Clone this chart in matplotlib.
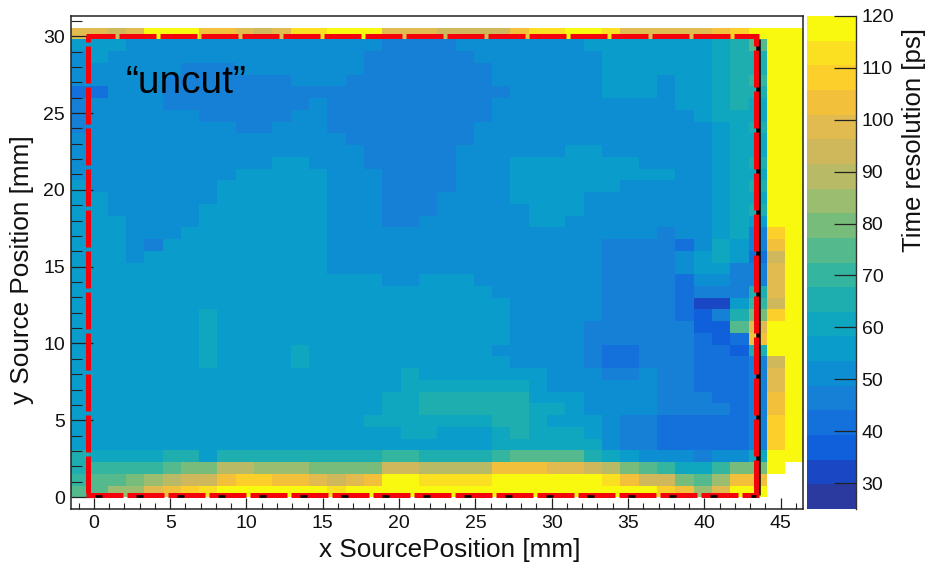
import matplotlib
matplotlib.use("Agg")
import matplotlib.pyplot as plt
import numpy as np
from matplotlib.colors import ListedColormap, BoundaryNorm
from matplotlib.cm import ScalarMappable
from matplotlib.ticker import MultipleLocator

nan = float("nan")
plt.rcParams['font.family'] = ['Liberation Sans', 'DejaVu Sans']
plt.rcParams['lines.scale_dashes'] = False

W, H = 928, 564
PX = 0.72  # points per pixel at dpi 100

XLIM = (-1.5, 46.5)
YLIM = (-0.78, 31.32)
N_X, N_Y = 40, 42
VMIN, VMAX, N_LEVELS = 25, 120, 20
CBAR_TICKS = [30, 40, 50, 60, 70, 80, 90, 100, 110, 120]
X_MAJOR = [0, 5, 10, 15, 20, 25, 30, 35, 40, 45]
Y_MAJOR = [0, 5, 10, 15, 20, 25, 30]
CUT_X = (-0.36, 43.4)
CUT_Y = (0.1, 30.05)
PALETTE = ['#2a3a9e', '#1a48c4', '#1060dc', '#1470da', '#1580d6', '#0e8ed2', '#0a9cca', '#0fa6c0',
           '#1eaeb0', '#33b5a0', '#55b98e', '#78bc7c', '#9bbd70', '#b8ba65', '#cfb85c', '#e2bb50',
           '#f3c03c', '#fdcf2a', '#fae020', '#f9f90f']

EMPTY = [nan] * 40
R01 = [99,99,94,99,118,118,118,103,103,99, 94,99,113,113,118,118,118,99,99,99, 94,94,94,94,103,113,113,118,118,113, 99,99,99,99,99,103,108,118,118,118]
R02 = [56,56,56,51,51,51,51,51,51,51, 51,51,51,51,51,51,51,46,46,46, 46,51,51,51,51,51,51,51,56,56, 56,56,56,56,56,61,65,75,118,118]
R03 = [51,56,51,51,51,51,51,51,51,51, 51,51,51,51,51,51,46,46,46,46, 46,46,51,51,51,51,51,51,51,56, 56,56,56,56,56,61,65,65,118,118]
R04 = [51,51,51,51,51,51,46,46,46,51, 51,51,51,51,51,51,46,46,46,46, 46,46,46,51,51,51,51,51,51,56, 56,56,56,56,56,61,65,65,118,118]
R05 = [51,51,51,51,51,46,46,46,46,46, 46,46,51,51,51,46,46,46,46,46, 46,46,46,51,51,51,51,51,51,56, 56,56,51,56,56,61,65,70,118,118]
R06 = [42,42,51,51,51,46,46,46,46,46, 46,46,46,46,46,46,46,46,46,46, 46,46,46,46,51,51,51,51,51,56, 56,56,51,56,56,61,65,65,118,118]
R07 = [46,51,51,51,51,46,46,46,46,46, 46,46,46,51,46,46,46,46,46,46, 46,46,46,51,51,51,51,51,51,51, 51,51,51,56,56,61,65,61,118,118]
R08 = [46,51,51,51,51,51,51,46,46,46, 46,46,51,51,46,46,46,46,46,46, 46,46,46,51,51,51,51,51,51,51, 51,51,51,51,56,61,61,61,118,118]
R09 = [46,51,51,51,51,51,51,51,51,46, 46,51,51,51,46,46,46,46,46,46, 46,46,51,51,51,51,51,51,51,51, 51,51,51,51,51,56,61,65,118,118]
R10 = [51,51,51,51,51,51,51,51,51,51, 51,51,51,51,51,46,46,46,46,46, 46,46,51,51,51,51,51,51,51,51, 51,51,51,51,51,56,61,61,118,118]
R11 = [51,51,51,51,51,51,51,51,51,51, 51,51,51,51,51,51,46,46,46,46, 46,51,51,51,51,51,51,56,56,51, 51,51,51,51,51,56,61,61,118,118]
R12 = [51,51,51,51,51,51,51,51,51,51, 51,56,56,51,51,51,46,46,46,46, 46,51,51,51,56,56,56,56,56,56, 56,51,51,51,51,56,61,65,118,118]
R13 = [51,51,51,51,51,51,51,51,51,56, 56,56,56,56,51,51,51,46,46,46, 46,51,51,51,56,56,56,56,56,56, 56,56,56,51,51,56,61,61,118,118]
R14 = [56,51,51,51,51,51,51,51,56,56, 56,56,56,56,51,51,51,46,46,46, 46,51,51,51,56,56,56,56,56,56, 51,51,51,51,51,56,61,65,118,118]
R15 = [56,56,51,51,51,51,51,51,56,56, 56,56,56,56,51,51,51,46,46,46, 51,51,51,51,56,56,56,56,51,51, 51,51,51,51,51,56,61,61,118,118]
R16 = [56,56,51,51,51,51,51,56,56,56, 56,56,56,56,51,51,51,46,46,46, 51,51,51,51,51,56,56,56,51,51, 51,51,51,51,51,56,61,65,118,118]
R17 = [56,56,56,51,51,51,51,56,56,56, 56,56,56,56,51,51,51,46,46,51, 51,51,51,51,51,56,56,51,51,51, 51,51,51,51,51,56,61,56,118,118]
R18 = [56,56,56,51,51,51,56,56,56,56, 56,56,56,56,51,51,51,51,51,51, 51,51,51,51,51,51,51,51,51,51, 51,51,46,51,51,56,61,46,108,118]
R19 = [56,56,56,51,46,56,56,56,56,56, 56,56,56,56,51,51,51,51,51,51, 51,51,51,51,51,51,51,51,51,46, 46,46,46,42,51,61,56,46,103,118]
R20 = [56,56,56,51,56,56,56,56,56,56, 56,56,56,56,51,51,51,51,51,51, 51,51,51,51,51,51,51,51,51,46, 46,46,46,51,56,61,56,42,94,118]
R21 = [56,56,56,56,56,56,56,56,56,56, 56,56,56,56,51,51,51,51,51,51, 51,51,51,51,51,51,51,51,51,46, 46,46,46,51,56,56,46,46,99,118]
R22 = [56,56,56,56,56,56,56,56,56,56, 56,56,56,56,56,56,56,51,51,56, 56,56,51,51,51,51,51,51,51,46, 46,46,46,42,51,51,46,46,99,118]
R23 = [56,56,56,56,56,56,56,56,56,56, 56,56,56,56,56,56,56,56,56,56, 56,56,56,51,51,51,51,51,51,46, 46,46,46,42,46,46,46,65,99,118]
R24 = [56,56,56,56,56,56,56,56,56,56, 56,56,56,56,56,56,56,56,56,56, 56,56,56,56,51,51,51,51,51,46, 46,46,46,42,32,32,56,70,94,118]
R25 = [56,56,56,56,56,56,56,61,56,56, 56,56,56,56,56,56,56,56,56,56, 56,56,56,56,51,51,51,51,51,46, 46,46,46,42,37,46,65,80,108,118]
R26 = [56,56,56,56,56,56,56,61,56,56, 56,56,56,56,56,56,56,56,56,56, 56,56,56,56,51,51,51,51,46,46, 46,46,46,46,37,37,75,99,118,118]
R27 = [56,56,56,56,56,56,56,61,56,56, 56,56,56,56,56,56,56,56,56,56, 56,56,56,56,51,51,51,51,46,46, 46,46,46,46,42,37,42,103,118,118]
R28 = [56,56,56,56,56,56,56,61,56,56, 56,56,61,56,56,56,56,56,56,56, 56,56,56,51,51,51,51,51,46,42, 42,46,46,46,42,42,37,65,118,118]
R29 = [56,56,56,56,56,56,56,61,56,56, 56,56,61,56,56,56,56,56,56,56, 56,56,56,56,51,51,51,51,46,42, 42,46,46,46,42,42,42,46,94,118]
R30 = [56,56,56,56,56,56,56,56,56,56, 56,56,56,56,56,56,56,56,61,56, 56,56,56,56,56,56,51,51,51,46, 46,51,46,46,42,42,42,46,99,118]
R31 = [56,56,56,56,56,56,56,56,56,56, 56,56,56,56,56,56,56,56,61,61, 61,61,61,61,61,56,51,51,51,51, 51,51,46,46,42,42,42,46,99,118]
R32 = [56,56,56,56,56,56,56,56,56,56, 56,56,56,56,56,56,56,61,61,65, 65,65,65,65,65,56,56,56,51,51, 51,51,46,46,46,42,42,46,103,118]
R33 = [56,56,56,56,56,56,56,56,56,56, 56,56,56,56,56,56,56,61,61,65, 65,65,65,65,65,61,61,56,51,51, 51,51,46,46,46,46,42,46,103,118]
R34 = [56,56,56,56,56,56,56,56,56,56, 56,56,56,56,56,56,61,61,61,61, 61,61,61,65,65,61,56,56,56,51, 46,46,42,42,42,42,42,46,108,118]
R35 = [56,56,56,56,56,56,56,56,56,56, 56,56,56,56,56,56,56,56,61,61, 56,56,56,61,65,61,61,61,56,51, 46,46,42,42,42,42,42,46,108,118]
R36 = [56,56,56,56,56,56,56,56,56,56, 56,56,56,56,56,56,56,56,56,56, 56,56,56,61,61,61,61,61,61,51, 46,46,42,42,42,42,42,46,108,118]
R37 = [65,61,61,61,61,65,65,56,65,65, 65,65,65,65,65,65,65,70,70,65, 65,65,65,70,75,75,75,75,65,61, 56,51,51,51,46,51,51,61,118,118]
R38 = [65,70,70,70,70,75,80,80,89,89, 84,84,84,80,80,80,80,94,94,89, 89,89,89,103,103,103,99,99,94,89, 80,75,70,61,61,70,80,80,118,nan]
R39 = [70,75,75,80,84,89,94,94,103,108, 108,103,103,99,94,99,103,118,118,113, 113,113,113,118,118,118,118,118,118,113, 103,94,94,80,75,84,103,103,nan,nan]
R40 = [75,75,84,84,99,103,108,113,118,118, 118,118,118,118,113,118,118,118,118,118, 118,118,118,118,118,118,118,118,118,118, 118,118,108,103,84,99,118,118,nan,nan]

rows_top_down = [EMPTY, R01, R02, R03, R04, R05, R06, R07, R08, R09, R10, R11, R12, R13,
                 R14, R15, R16, R17, R18, R19, R20, R21, R22, R23, R24, R25, R26, R27,
                 R28, R29, R30, R31, R32, R33, R34, R35, R36, R37, R38, R39, R40, EMPTY]
Z = np.ma.masked_invalid(np.array(rows_top_down, dtype=float)[::-1])

cmap = ListedColormap(PALETTE)
norm = BoundaryNorm(np.linspace(VMIN, VMAX, N_LEVELS + 1), N_LEVELS)

fig = plt.figure(figsize=(W / 100, H / 100), dpi=100)
ax = fig.add_axes([71 / W, 1 - 509 / H, (803.5 - 71) / W, (509 - 16) / H])
cax = fig.add_axes([807.5 / W, 1 - 509 / H, (856 - 807.5) / W, (509 - 16) / H])

x_edges = np.linspace(XLIM[0], XLIM[1], N_X + 1)
y_edges = np.linspace(YLIM[0], YLIM[1], N_Y + 1)
ax.pcolormesh(x_edges, y_edges, Z, cmap=cmap, norm=norm, zorder=1, antialiased=False, linewidth=0)
ax.set_xlim(*XLIM)
ax.set_ylim(*YLIM)

ax.set_xticks(X_MAJOR)
ax.set_yticks(Y_MAJOR)
ax.xaxis.set_minor_locator(MultipleLocator(1))
ax.yaxis.set_minor_locator(MultipleLocator(1))
ax.tick_params(axis='x', which='major', direction='in', length=11 * PX, width=0.9, color='#222222',
               labelsize=14, pad=4.5, labelcolor='#111111')
ax.tick_params(axis='x', which='minor', direction='in', length=6 * PX, width=0.8, color='#222222')
ax.tick_params(axis='y', which='major', direction='in', length=22 * PX, width=0.9, color='#222222',
               labelsize=14, pad=4.3, labelcolor='#111111')
ax.tick_params(axis='y', which='minor', direction='in', length=11 * PX, width=0.8, color='#222222')
for s in ax.spines.values():
    s.set_linewidth(1.1)
    s.set_color('#222222')

fig.text(450 / W, 1 - 550 / H, 'x SourcePosition [mm]', ha='center', va='center', fontsize=18.8, color='#111111')
fig.text(22 / W, 1 - 270 / H, 'y Source Position [mm]', ha='center', va='center', rotation=90, fontsize=18.8, color='#111111')
ax.text(2.1, 26.3, '\u201cuncut\u201d', fontsize=28, color='black', ha='left', va='baseline', zorder=6)

# black frame under the red dashed rectangle
ax.plot([CUT_X[1] + 0.1, CUT_X[1] + 0.1], [CUT_Y[0], CUT_Y[1] - 0.2], color='black', lw=4.5 * PX, zorder=3,
        solid_capstyle='butt')

rkw = dict(color='#f4040a', lw=5 * PX, dash_capstyle='butt', zorder=4)
on, off = 37 * PX, 4 * PX
ext_x, ext_y = 0.16, 0.16
ax.plot([CUT_X[0] - ext_x, CUT_X[1] + ext_x], [CUT_Y[1], CUT_Y[1]], linestyle=(8 * PX, (on, off)), **rkw)
ax.plot([CUT_X[0], CUT_X[0]], [CUT_Y[1], CUT_Y[0]], linestyle=(31 * PX, (on, off)), **rkw)
ax.plot([CUT_X[1], CUT_X[1]], [CUT_Y[1], CUT_Y[0]], linestyle=(27 * PX, (on, off)), **rkw)
ax.plot([CUT_X[0] - ext_x, CUT_X[1] + ext_x], [CUT_Y[0], CUT_Y[0]], linestyle=(0, (on, off)), **rkw)
ax.plot([CUT_X[0], CUT_X[1]], [CUT_Y[0] - 0.06, CUT_Y[0] - 0.06], color='black', lw=2.6 * PX, zorder=5,
        linestyle=(34 * PX + 0, (7 * PX, 34 * PX)), dash_capstyle='butt')

sm = ScalarMappable(norm=norm, cmap=cmap)
cb = fig.colorbar(sm, cax=cax, ticks=CBAR_TICKS, spacing='proportional', drawedges=False)
cb.outline.set_visible(False)
cax.tick_params(axis='y', which='both', direction='in', length=22 * PX, width=0.9, color='#222222',
                labelsize=14, pad=4, labelcolor='#111111', right=True)
cax.minorticks_off()
cax.plot([1, 1], [VMIN, VMAX], color='#333333', lw=1.0, transform=cax.get_yaxis_transform(), clip_on=False, zorder=5)
fig.text(914 / W, 1 - 140.5 / H, 'Time resolution [ps]', ha='center', va='center', rotation=90, fontsize=18.5, color='#111111')

fig.savefig('out.png', dpi=100)
